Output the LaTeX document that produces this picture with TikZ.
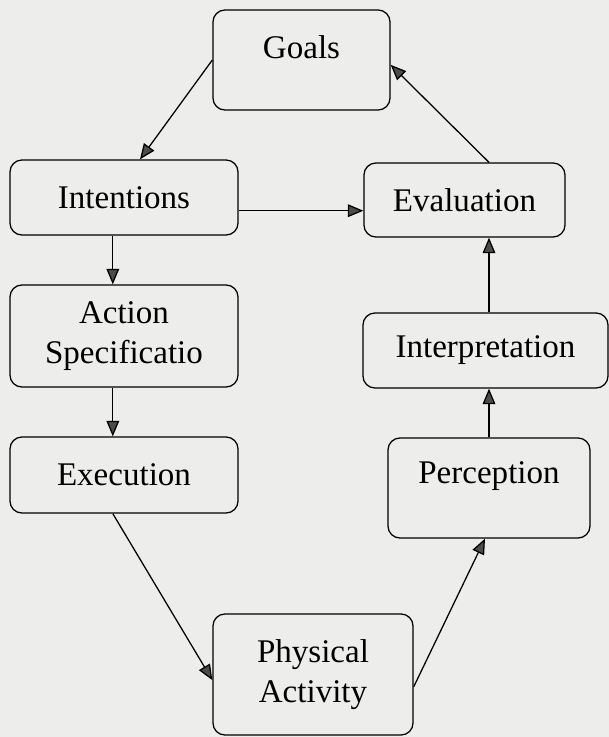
\documentclass[tikz,border=0pt]{standalone}
\usepackage{fontspec}
\setmainfont{Liberation Serif}
\usetikzlibrary{arrows.meta}
\definecolor{paper}{RGB}{237,237,235}
\begin{document}
\begin{tikzpicture}[x=0.025cm, y=-0.025cm,
  stage/.style={draw, line width=0.9pt, rounded corners=0.3cm, inner sep=0pt,
    align=center, font=\fontsize{23.5}{28}\selectfont},
  flow/.style={line width=0.9pt, -{Triangle[length=11pt, width=9pt, fill=black!70]}}]
  \fill[paper] (0, 0) rectangle (609, 737);
  \node[stage, minimum width=4.425cm, minimum height=2.5cm, text depth=0.65cm] (goals) at (301.5, 60) {Goals};
  \node[stage, minimum width=5.7cm, minimum height=1.875cm] (intent) at (124, 197.5) {Intentions};
  \node[stage, minimum width=5.025cm, minimum height=1.85cm] (eval) at (464.5, 200) {Evaluation};
  \node[stage, minimum width=5.7cm, minimum height=2.55cm] (action) at (124, 336) {Action\\Specificatio};
  \node[stage, minimum width=6.125cm, minimum height=1.875cm] (interp) at (485.5, 350.5) {Interpretation};
  \node[stage, minimum width=5.7cm, minimum height=1.9cm] (exec) at (124, 475) {Execution};
  \node[stage, minimum width=5.05cm, minimum height=2.5cm, text depth=0.75cm] (percep) at (489, 488) {Perception};
  \node[stage, minimum width=5cm, minimum height=3.025cm] (phys) at (313, 674.5) {Physical\\Activity};
  \draw[flow] (goals.west) -- ([xshift=0.4cm]intent.north);
  \draw[flow] ([yshift=-0.33cm]intent.east) -- ([yshift=-0.33cm]intent.east -| eval.west);
  \draw[flow] ([xshift=-0.28cm]intent.south) -- ([xshift=-0.28cm]action.north);
  \draw[flow] ([xshift=-0.28cm]action.south) -- ([xshift=-0.28cm]exec.north);
  \draw[flow] ([xshift=-0.28cm]exec.south) -- ([yshift=-0.14cm]phys.west);
  \draw[flow] ([yshift=-0.31cm]phys.east) -- ([xshift=-0.1cm]percep.south);
  \draw[flow] (percep.north) -- (percep.north |- interp.south);
  \draw[flow] (percep.north |- interp.north) -- (percep.north |- eval.south);
  \draw[flow] (percep.north |- eval.north) -- ([yshift=-0.12cm]goals.east);
\end{tikzpicture}
\end{document}
